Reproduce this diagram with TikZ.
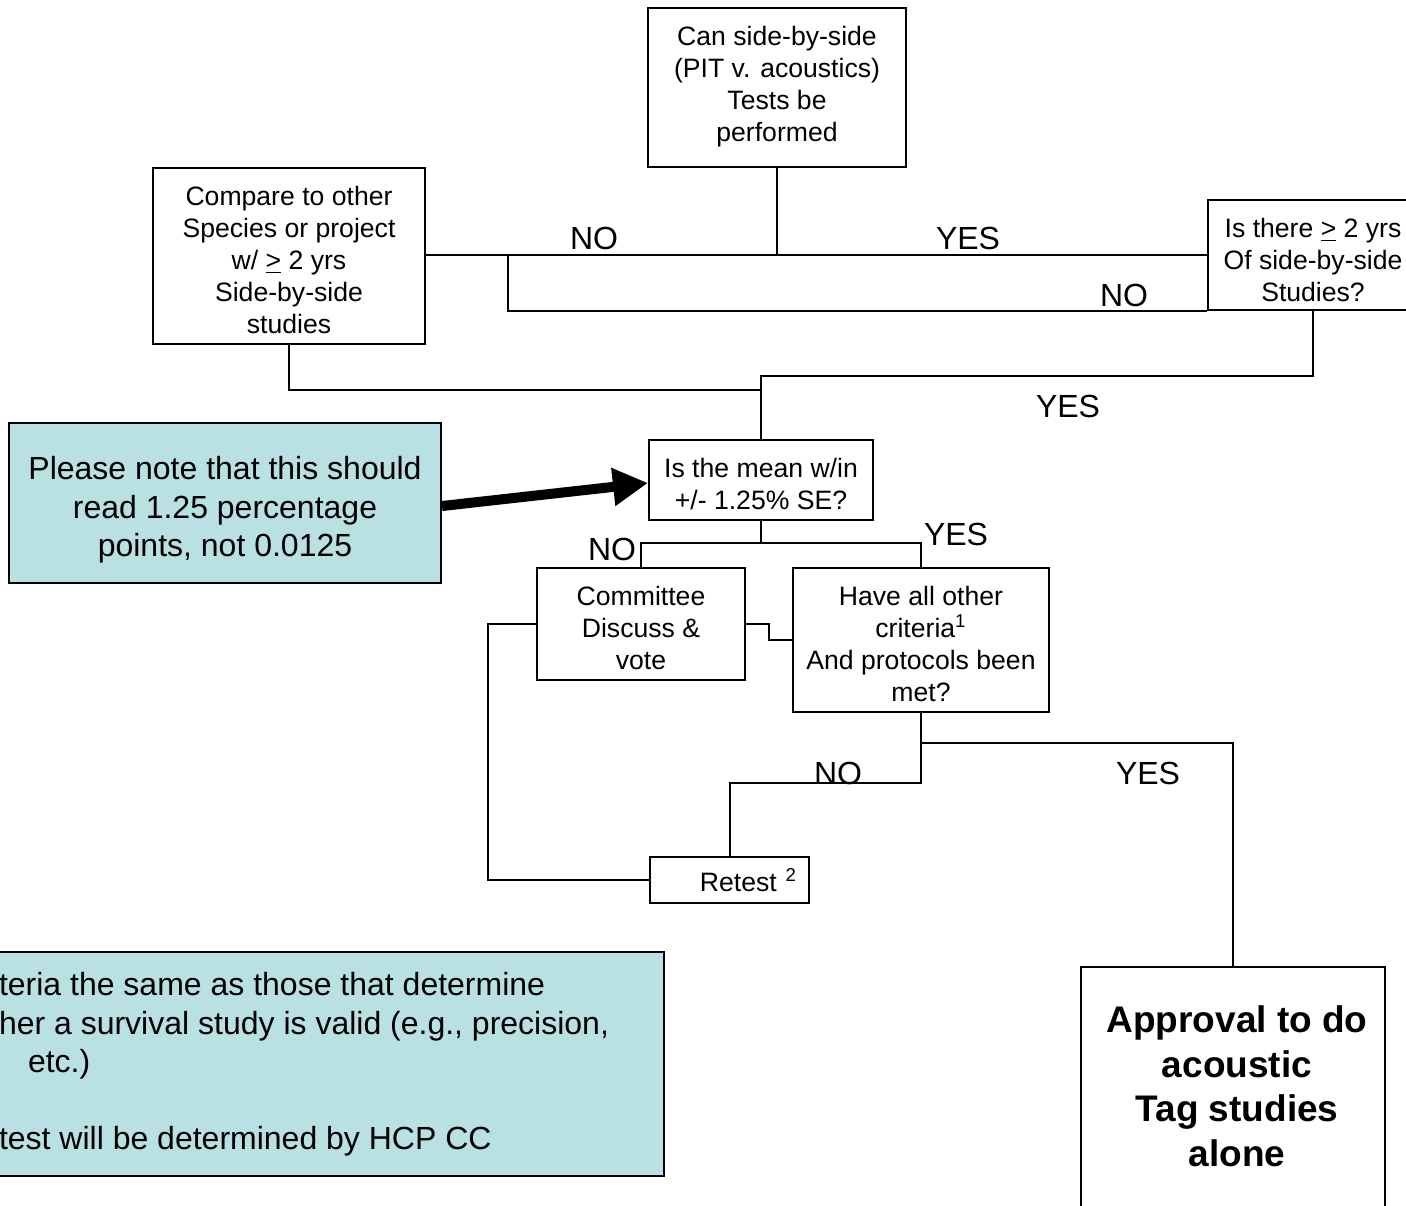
\documentclass[tikz,border=0pt]{standalone}
\usepackage{fontspec}
\setmainfont{Liberation Sans}
\usetikzlibrary{arrows.meta}
\definecolor{notecyan}{RGB}{185,224,227}
\newcommand{\GE}{\underline{>}}
% width, height, first baseline, text (top anchored)
\newcommand{\btext}[4]{\parbox[t][#2][t]{#1}{\centering\rule{0pt}{#3}#4\par}}

\begin{document}
\begin{tikzpicture}[x=0.5pt, y=-0.5pt,
  box/.style={draw, line width=1pt, inner sep=0pt,
    font=\fontsize{13.3}{16}\selectfont},
  note/.style={box, fill=notecyan, font=\fontsize{16}{19.2}\selectfont},
  lbl/.style={inner sep=0pt, font=\fontsize{16}{19.2}\selectfont},
  wire/.style={line width=1pt},
  bigarrow/.style={line width=5pt, -{Triangle[length=17.5pt, width=18pt]}}]

  \newcommand\U{0.5pt}
  \useasboundingbox (0,0) rectangle (1406,1205);

  % boxes
  \node[box] (test) at (777,87.5)
    {\btext{129pt}{79.5pt}{18.85pt}{Can side-by-side\\(PIT v. acoustics)\\Tests be\\performed}};
  \node[box] (compare) at (289,256)
    {\btext{136pt}{88pt}{18.85pt}{Compare to other\\Species or project\\w/ \GE{} 2 yrs\\Side-by-side\\studies}};
  \node[box] (years) at (1313,255)
    {\btext{105pt}{55pt}{18.85pt}{Is there \GE{} 2 yrs\\Of side-by-side\\Studies?}};
  \node[box] (mean) at (761,480)
    {\btext{112pt}{40pt}{18.85pt}{Is the mean w/in\\+/- 1.25\% SE?}};
  \node[box] (committee) at (641,624)
    {\btext{104pt}{56pt}{18.85pt}{Committee\\Discuss \&\\vote}};
  \node[box] (criteria) at (921,640)
    {\btext{128pt}{72pt}{18.85pt}{Have all other\\criteria\textsuperscript{1}\\And protocols been\\met?}};
  \node[box, align=right, text width=135*\U, inner xsep=12*\U, minimum height=46*\U]
    (retest) at (729.5,880) {Retest \textsuperscript{2}};
  \node[box, font=\fontsize{18.5}{22.25}\bfseries\selectfont] (approval) at (1233,1088.5)
    {\hspace*{4pt}\btext{148pt}{121.5pt}{32.9pt}{Approval to do\\acoustic\\Tag studies\\alone}};

  % notes
  \node[note] (note) at (225,503)
    {\btext{216pt}{80pt}{28.4pt}{Please note that this should\\read 1.25 percentage\\points, not 0.0125}};
  \node[note, anchor=north east, inner xsep=10pt] (legend) at (665,951)
    {\parbox[t][112pt][t]{322.5pt}{\raggedright\rule{0pt}{21.9pt}%
     teria the same as those that determine\\
     her a survival study is valid (e.g., precision,\\
     \hspace*{14.5pt}etc.)\\[19.2pt]
     test will be determined by HCP CC\par}};

  % labels
  \node[lbl] (no1) at (594,238) {NO};
  \node[lbl] (yes1) at (968,238) {YES};
  \node[lbl] (no2) at (1124,295) {NO};
  \node[lbl] (yes2) at (1068,406) {YES};
  \node[lbl] (no3) at (612,549) {NO};
  \node[lbl] (yes3) at (956,534) {YES};
  \node[lbl] (no4) at (838,773) {NO};
  \node[lbl] (yes4) at (1148,773) {YES};

  % joints
  \coordinate (nojoin) at (508,255);
  \coordinate (ymid) at (761,376);
  \coordinate (cjoin) at (761,390);
  \coordinate (split) at (761,543);
  \coordinate (nobend) at (921,783);
  \coordinate (yesbend) at (921,743);

  % connectors
  \draw[wire] (compare.east |- years.west) -- (years.west); % compare--years
  \draw[wire] (test.south) -- (test.south |- years.west); % test
  \draw[wire] (nojoin) |- (years.south west); % NO
  \draw[wire] (years.south) |- (ymid) -- (mean.north); % YES
  \draw[wire] (compare.south) |- (cjoin);
  \draw[wire] (mean.south) -- (split);
  \draw[wire] (committee.north) |- (split) -| (criteria.north);
  \draw[wire] (committee.east) -- ++(23,0) |- (criteria.west);
  \draw[wire] (committee.west) -- ++(-48,0) |- (retest.west);
  \draw[wire] (criteria.south) -- (nobend) -| (retest.north); % NO
  \draw[wire] (yesbend) -| (approval.north); % YES

  \draw[bigarrow] ([yshift=-1.5pt]note.east) -- ([yshift=-1.5pt]mean.west);
\end{tikzpicture}
\end{document}
